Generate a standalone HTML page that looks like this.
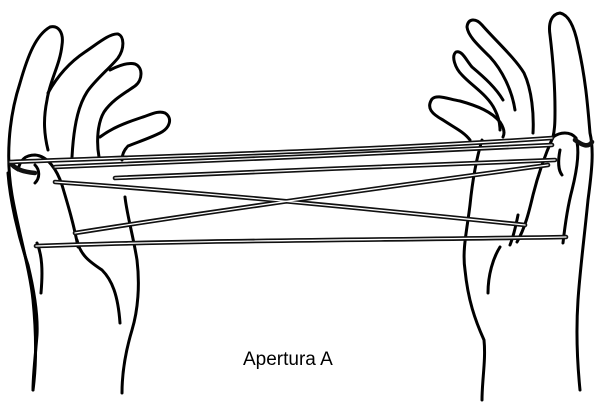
<!DOCTYPE html>
<html><head><meta charset="utf-8"><style>
html,body{margin:0;padding:0;background:#fff;width:600px;height:411px;overflow:hidden}
svg{display:block}
</style></head><body>
<svg width="600" height="411" viewBox="0 0 600 411" xmlns="http://www.w3.org/2000/svg">
<g fill="none" stroke="#000" stroke-width="3" stroke-linecap="round" stroke-linejoin="round">
<!-- left hand -->
<path d="M33,390 C37,360 36,330 33,300 C30,270 18,230 12,195 C6,160 8,120 20,83 C28,55 36,35 50,27 C58,25 64,32 62,45 C60,65 50,80 47,100 C44,115 43,130 48,150"/>
<path d="M48,93 C58,75 70,62 85,52 C97,44 110,33 118,34 C124,36 125,48 118,58 C110,68 95,80 87,92 C80,103 74,120 72,157"/>
<path d="M110,70 C118,66 128,62 135,64 C143,67 143,80 135,86 C125,93 112,100 104,112 C98,122 96,140 99,157"/>
<path d="M100,137 C112,128 125,123 140,118 C150,115 158,110 165,113 C173,118 170,128 160,133 C150,138 138,142 128,146 C124,150 122,155 122,160"/>
<path d="M18,170 C20,160 25,155 35,155 C48,156 57,170 62,185 C68,205 74,225 78,247"/>
<path d="M35,165 C40,170 40,178 35,183"/>
<path d="M77,240 C80,255 90,262 102,270 C112,280 118,295 120,323"/>
<path d="M125,197 C127,215 133,235 137,260 C140,285 138,310 132,330 C126,350 122,370 122,393"/>
<path d="M8,173 C10,200 18,235 28,265 C34,290 38,315 37,335 C35,360 33,375 33,390"/>
<path d="M37,243 C42,255 43,270 41,293"/>
<!-- right hand -->
<path d="M580,390 C577,360 576,330 578,300 C580,270 584,240 588,200 C592,170 594,150 590,133 C588,110 586,80 578,45 C575,30 570,15 560,13 C552,14 548,22 550,35 C553,60 555,85 555,110 C555,120 555,128 553,137"/>
<path d="M533,133 C534,115 532,90 524,73 C515,58 495,40 482,25 C476,18 468,18 467,27 C468,36 478,45 490,57 C502,70 512,90 515,110"/>
<path d="M503,100 C496,88 485,78 472,67 C466,60 462,50 456,52 C451,56 455,68 462,75 C472,86 488,95 495,110 C499,118 500,124 500,130"/>
<path d="M470,140 C464,132 455,128 443,120 C432,114 426,108 432,99 C437,94 448,99 460,101 C478,106 492,112 500,122 C504,128 505,133 503,137"/>
<path d="M553,137 C560,132 570,131 576,138 C580,150 577,170 572,190 C568,205 565,225 563,243"/>
<path d="M553,137 C545,155 538,175 533,195 C529,212 525,228 517,242"/>
<path d="M560,150 C558,160 558,170 562,175"/>
<path d="M482,140 C476,160 472,185 470,205 C467,230 462,250 465,270 C468,300 475,320 484,340 C486,360 482,380 482,400"/>
<path d="M500,247 C493,258 488,275 488,293"/>
<path d="M518,215 C516,225 514,235 510,245"/>
</g>
<!-- strings -->
<g fill="none" stroke-linecap="round">
<g stroke="#111" stroke-width="4.6">
<path d="M10,162 C100,158 350,152 552,138"/>
<path d="M55,167 C200,162 400,152 552,145"/>
<path d="M115,178 C250,172 420,165 555,160"/>
<path d="M55,182 C200,192 380,210 525,225"/>
<path d="M75,233 C220,210 400,185 548,165"/>
<path d="M36,246 C200,240 400,240 566,237"/>
<path d="M10,162 C15,170 25,172 35,173"/>
<path d="M575,140 C582,145 588,148 592,142"/>
</g>
<g stroke="#fff" stroke-width="1.3">
<path d="M10,162 C100,158 350,152 552,138"/>
<path d="M55,167 C200,162 400,152 552,145"/>
<path d="M115,178 C250,172 420,165 555,160"/>
<path d="M55,182 C200,192 380,210 525,225"/>
<path d="M75,233 C220,210 400,185 548,165"/>
<path d="M36,246 C200,240 400,240 566,237"/>
</g>
</g>
<text x="243" y="365" font-family="Liberation Sans, sans-serif" font-size="19" fill="#000">Apertura A</text>
</svg>
</body></html>
